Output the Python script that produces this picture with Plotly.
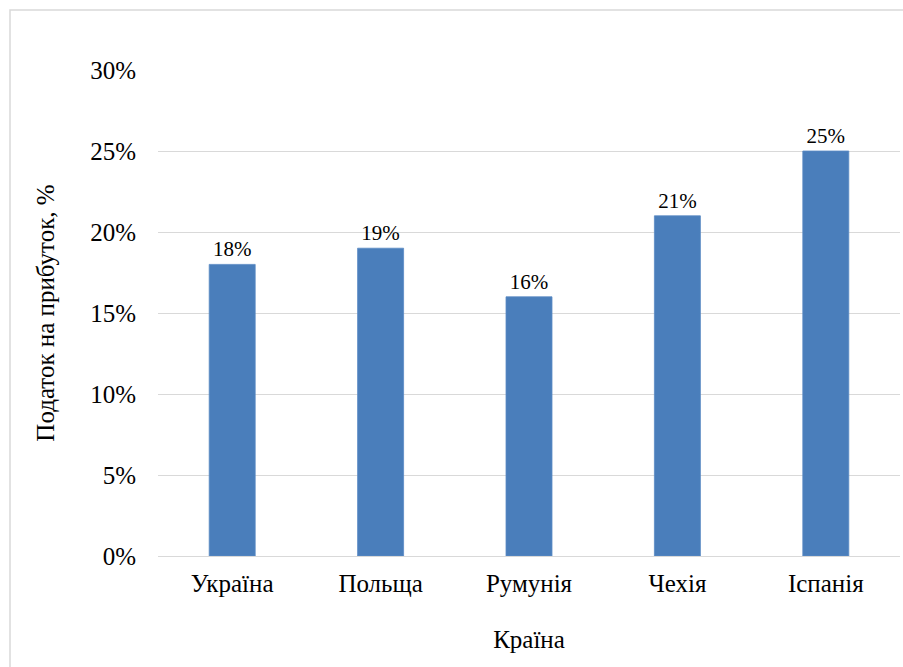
import plotly.graph_objects as go

countries = ["Україна", "Польща", "Румунія", "Чехія", "Іспанія"]
tax_rates = [18, 19, 16, 21, 25]
y_ticks = [0, 5, 10, 15, 20, 25, 30]
y_tick_labels = [f"{v}%" for v in y_ticks]

FONT = "Liberation Serif, Times New Roman, serif"
BAR_COLOR = "#4A7EBB"
GRID = "#D9D9D9"

# plot area in pixels
L, R, T, B = 158, 3, 70, 111
W, H = 903, 667
pw, ph = W - L - R, H - T - B

fig = go.Figure(
    go.Bar(
        x=countries,
        y=tax_rates,
        marker=dict(color=BAR_COLOR, line=dict(color="#5B8AC4", width=0.8)),
        text=[f"{v}%" for v in tax_rates],
        textposition="outside",
        textfont=dict(family=FONT, size=21, color="black"),
        cliponaxis=False,
    )
)

# outer chart border
def px_x(x):
    return (x - L) / pw

def px_y(y):
    return (H - B - y) / ph

fig.add_shape(
    type="rect", xref="paper", yref="paper",
    x0=px_x(10), x1=px_x(910), y0=px_y(675), y1=px_y(10),
    line=dict(color=GRID, width=1.5), fillcolor="rgba(0,0,0,0)", layer="below",
)

fig.update_layout(
    width=W, height=H,
    margin=dict(l=L, r=R, t=T, b=B),
    paper_bgcolor="white",
    plot_bgcolor="white",
    bargap=0.69,
    showlegend=False,
    font=dict(family=FONT, size=25, color="black"),
    xaxis=dict(
        title=dict(text="Країна", font=dict(family=FONT, size=25), standoff=34),
        tickfont=dict(family=FONT, size=25),
        showgrid=False,
        showline=False,
        ticks="",
        ticklabelstandoff=10,
    ),
    yaxis=dict(
        title=dict(text="Податок на прибуток, %", font=dict(family=FONT, size=25), standoff=28),
        range=[0, 30],
        tickvals=y_ticks,
        ticktext=y_tick_labels,
        tickfont=dict(family=FONT, size=25),
        showgrid=True,
        gridcolor=GRID,
        gridwidth=1,
        zeroline=True,
        zerolinecolor=GRID,
        zerolinewidth=1,
        showline=False,
        ticks="",
        ticklabelstandoff=21,
    ),
)

fig.write_html("out.html")
